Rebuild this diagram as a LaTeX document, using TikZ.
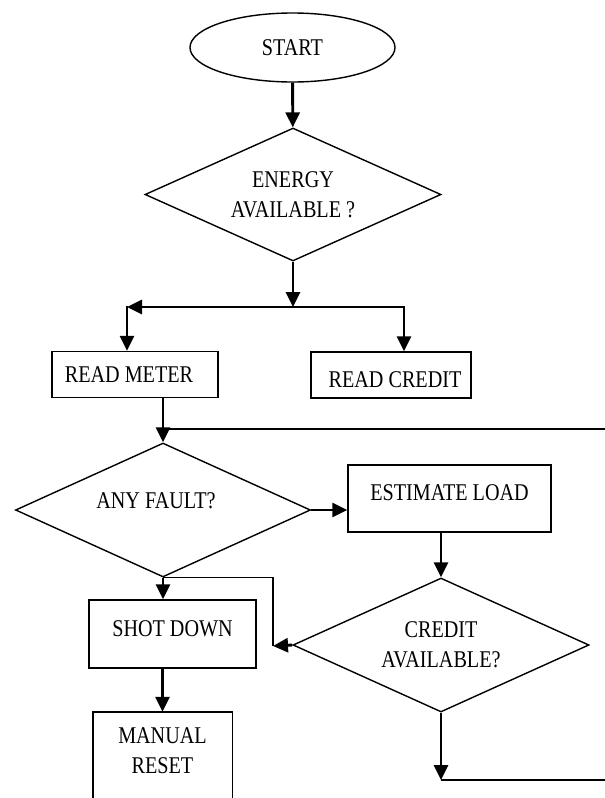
\documentclass[tikz,border=0pt]{standalone}
\usepackage{fontspec}
\setmainfont[FakeStretch=0.84]{Liberation Serif}
\usetikzlibrary{arrows.meta,shapes.geometric}
\newcommand\fsz{\fontsize{24pt}{30pt}\selectfont}
\tikzset{
  box/.style={draw, line width=1.4pt, rectangle, inner sep=0pt, font=\fsz},
  dia/.style={draw, line width=1.4pt, diamond, inner sep=0pt, align=center, font=\fsz, shape aspect=2.2},
  arr/.style={line width=2.9pt, line join=miter, -{Triangle[length=15pt,width=14pt]}},
  midln/.style={line width=2.1pt},
  thn/.style={line width=1.4pt},
}
\begin{document}
\begin{tikzpicture}[x=1pt,y=-1pt]
\clip (0,0) rectangle (605,798);
\fill[white] (0,0) rectangle (605,798);

% nodes
\node[draw, line width=1.4pt, ellipse, inner sep=0pt, minimum width=205pt, minimum height=69pt, font=\fsz] (start) at (292.5,47.5) {START};
\node[dia, minimum width=296pt, minimum height=133pt] (energy) at (293,194.5) {ENERGY\\AVAILABLE ?};
\node[box, minimum width=166pt, minimum height=46pt] (readmeter) at (135,374.5) {READ METER\hspace*{12pt}};
\node[box, minimum width=160pt, minimum height=46pt, text height=24.6pt, text depth=0pt] (readcredit) at (391,375) {\hspace*{8pt}READ CREDIT};
\node[dia, minimum width=295pt, minimum height=134pt, text height=16.5pt, text depth=18.8pt] (anyfault) at (163,510) {ANY FAULT?\hspace*{14pt}};
\node[box, minimum width=203pt, minimum height=67pt, text height=16.5pt, text depth=11.8pt] (estimate) at (449.5,498.5) {ESTIMATE LOAD};
\node[dia, minimum width=296pt, minimum height=134pt] (credit) at (441,645) {CREDIT\\AVAILABLE?};
\node[box, minimum width=167pt, minimum height=68pt, text height=16.5pt, text depth=11pt] (shotdown) at (172.5,634) {SHOT DOWN};
\node[draw=none, rectangle, inner sep=0pt, minimum width=139pt, minimum height=78pt, align=center, font=\fsz] (reset) at (162.5,751) {MANUAL\\RESET};
\draw[thn] ([yshift=-60pt]reset.south west) -- (reset.north west) -- (reset.north east) -- ([yshift=-60pt]reset.south east);

% coordinates
\coordinate (br) at (293,307);
\coordinate (bl) at (127,307);
\coordinate (bR) at (404,307);
\coordinate (loopR) at (606,429);
\coordinate (jn) at (273,646);
\coordinate (botR) at (606,780);

% connectors
\draw[arr] (start) -- (energy);
\draw[arr] (energy.south) -- (br);
\draw[arr] (br) -- (bl);
\draw[arr] ([yshift=1.45pt]bl) -- (bl |- readmeter.north);
\draw[arr] (br) -- (bR) -- (bR |- readcredit.north);
\draw[midln] (loopR) -- (anyfault.north |- loopR);
\draw[arr] (anyfault.north |- readmeter.south) -- (anyfault.north);
\draw[arr] (anyfault.east) -- (anyfault.east -| estimate.west);
\draw[arr] (credit.north |- estimate.south) -- (credit.north);
\draw[thn] (anyfault.south) -- (anyfault.south -| jn) -- (jn);
\draw[arr] (credit.west) -- (jn);
\draw[arr] (anyfault.south) -- (anyfault.south |- shotdown.north);
\draw[arr] (reset.north |- shotdown.south) -- (reset.north);
\draw[arr] (credit.south) -- (credit.south |- botR);
\draw[thn] (credit.south |- botR) -- (botR);
\end{tikzpicture}
\end{document}
